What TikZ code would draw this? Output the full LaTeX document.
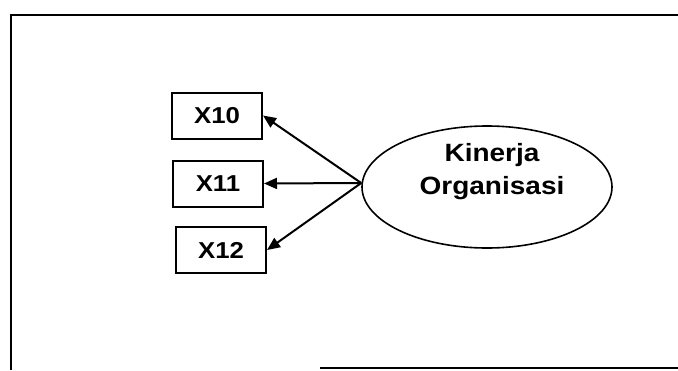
\documentclass[tikz,border=0pt]{standalone}
\usepackage{fontspec}
\setmainfont{Liberation Sans}
\newfontfamily\lblfont[FakeStretch=1.12]{Liberation Sans}
\usetikzlibrary{arrows.meta,shapes.geometric}
\tikzset{
  indbox/.style={draw, line width=2pt, minimum width=90pt, minimum height=46pt, inner sep=0pt, font=\lblfont\bfseries\fontsize{23}{27}\selectfont},
  latent/.style={draw, ellipse, line width=1.6pt, minimum width=250pt, minimum height=122pt, inner sep=0pt},
  loadarrow/.style={line width=2pt, -{Triangle[length=13pt,width=11pt]}},
  frameline/.style={line width=2.2pt}
}
\begin{document}
\begin{tikzpicture}[x=1pt,y=-1pt]
\useasboundingbox (0,0) rectangle (678,370);
% frame
\coordinate (fa) at (11,370);
\coordinate (fb) at (11,15);
\coordinate (fc) at (678,15);
\coordinate (fd) at (320,368);
\coordinate (fe) at (678,368);
\draw[frameline] (fa) -- (fb) -- (fc);
\draw[frameline] (fd) -- (fe);
% indicators
\node[indbox] (x10) at (217,115.5) {X10};
\node[indbox] (x11) at (218,183.5) {X11};
\node[indbox] (x12) at (221,250) {X12};
% latent
\node[latent] (ko) at (487,187) {};
\node[font=\lblfont\bfseries\fontsize{25}{33}\selectfont, align=center, inner sep=0pt] (kot) at (492,172) {Kinerja\\Organisasi};
\coordinate (src) at ([yshift=4pt]ko.west);
% arrows
\draw[loadarrow] (src) -- (x10.east);
\draw[loadarrow] (src) -- (x11.east);
\draw[loadarrow] (src) -- (x12.east);
\end{tikzpicture}
\end{document}
